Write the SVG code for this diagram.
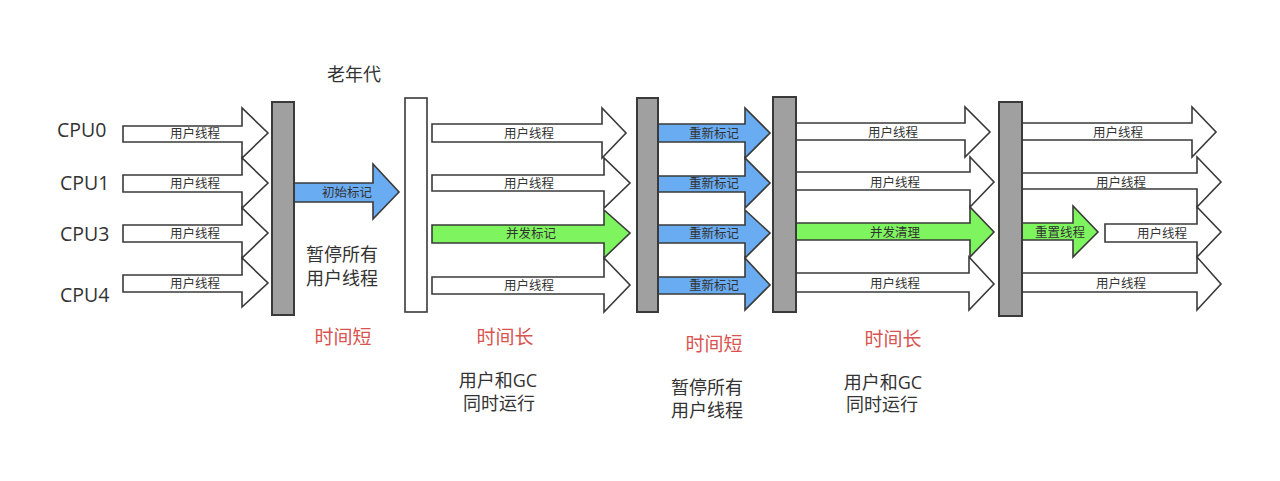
<svg xmlns="http://www.w3.org/2000/svg" width="1280" height="481" viewBox="0 0 1280 481">
<style>
text{font-family:"Open Sans","Noto Sans CJK SC",sans-serif;fill:#333}
.cpu{font-size:19.5px}
.lbl{font-size:12.5px;text-anchor:middle}
.note{font-size:18px;text-anchor:middle}
.red{font-size:19px;text-anchor:middle;fill:#d9534f}
.bar{fill:#a0a0a0;stroke:#3a3a3a;stroke-width:2}
.wbar{fill:#fff;stroke:#3a3a3a;stroke-width:1.6}
.aw{fill:#fff;stroke:#3a3a3a;stroke-width:1.6;stroke-linejoin:miter}
.ab{fill:#6aacf2;stroke:#3a3a3a;stroke-width:1.6}
.ag{fill:#7ef55e;stroke:#3a3a3a;stroke-width:1.6}
</style>
<rect width="1280" height="481" fill="#fff"/>
<g id="cpu-labels">
<text class="cpu" x="57" y="137">CPU0</text>
<text class="cpu" x="60" y="190">CPU1</text>
<text class="cpu" x="60" y="241">CPU3</text>
<text class="cpu" x="60" y="302">CPU4</text>
</g>
<g id="connectors">
<path class="aw" d="M123,126H242V108L268,133L242,158V142H123Z"/>
<path class="aw" d="M123,175H242V158L268,183L242,208V192H123Z"/>
<path class="aw" d="M123,225H242V208L268,233L242,258V242H123Z"/>
<path class="aw" d="M123,275H242V258L268,283L242,307V292H123Z"/>
<path class="ab" d="M294,183H373V164L399,192L373,219V202H294Z"/>
<path class="aw" d="M432,124H602V108L626,133L602,158V142H432Z"/>
<path class="aw" d="M432,175H604V158L630,183L604,208V191H432Z"/>
<path class="ag" d="M432,225H604V210L630,233L604,258V243H432Z"/>
<path class="aw" d="M432,277H604V258L630,285L604,312V294H432Z"/>
<path class="ab" d="M658,124H745V108L770,133L745,158V142H658Z"/>
<path class="ab" d="M658,176H745V158L770,183L745,208V192H658Z"/>
<path class="ab" d="M658,225H745V210L770,233L745,258V243H658Z"/>
<path class="ab" d="M658,277H745V258L770,285L745,310V294H658Z"/>
<path class="aw" d="M796,123H965V107L990,132L965,157V140H796Z"/>
<path class="aw" d="M796,172H970V157L994,182L970,207V190H796Z"/>
<path class="ag" d="M796,223H970V207L994,232L970,257V240H796Z"/>
<path class="aw" d="M796,273H969V257L994,284L969,310V292H796Z"/>
<path class="aw" d="M1022,123H1192V107L1216,132L1192,157V140H1022Z"/>
<path class="aw" d="M1022,173H1197V157L1221,182L1197,207V189H1022Z"/>
<path class="ag" d="M1022,223H1073V206L1098,232L1073,257V240H1022Z"/>
<path class="aw" d="M1105,224H1197V207L1221,232L1197,257V242H1105Z"/>
<path class="aw" d="M1022,273H1197V257L1221,284L1197,310V292H1022Z"/>
</g>
<g id="arrow-labels">
<text class="lbl" x="195" y="138">用户线程</text>
<text class="lbl" x="195" y="188">用户线程</text>
<text class="lbl" x="195" y="238">用户线程</text>
<text class="lbl" x="195" y="288">用户线程</text>
<text class="lbl" x="347" y="197">初始标记</text>
<text class="lbl" x="529" y="138">用户线程</text>
<text class="lbl" x="529" y="188">用户线程</text>
<text class="lbl" x="531" y="238">并发标记</text>
<text class="lbl" x="529" y="290">用户线程</text>
<text class="lbl" x="714" y="138">重新标记</text>
<text class="lbl" x="714" y="188">重新标记</text>
<text class="lbl" x="714" y="238">重新标记</text>
<text class="lbl" x="714" y="290">重新标记</text>
<text class="lbl" x="893" y="137">用户线程</text>
<text class="lbl" x="895" y="187">用户线程</text>
<text class="lbl" x="895" y="237">并发清理</text>
<text class="lbl" x="895" y="288">用户线程</text>
<text class="lbl" x="1118" y="137">用户线程</text>
<text class="lbl" x="1121" y="187">用户线程</text>
<text class="lbl" x="1060" y="237">重置线程</text>
<text class="lbl" x="1162" y="238">用户线程</text>
<text class="lbl" x="1121" y="288">用户线程</text>
</g>
<g id="bar1"><rect class="bar" x="272" y="102" width="22" height="213"/></g>
<g id="bar-old"><rect class="wbar" x="405" y="98" width="22" height="214"/></g>
<g id="bar2"><rect class="bar" x="637" y="98" width="21" height="214"/></g>
<g id="bar3"><rect class="bar" x="773" y="97" width="23" height="215"/></g>
<g id="bar4"><rect class="bar" x="999" y="102" width="23" height="214"/></g>
<g id="notes">
<text class="note" x="354" y="81">老年代</text>
<text class="note" x="342" y="261">暂停所有</text>
<text class="note" x="342" y="285">用户线程</text>
<text class="red" x="343" y="344">时间短</text>
<text class="red" x="505" y="344">时间长</text>
<text class="note" x="498" y="387">用户和GC</text>
<text class="note" x="499" y="410">同时运行</text>
<text class="red" x="714" y="351">时间短</text>
<text class="note" x="707" y="394">暂停所有</text>
<text class="note" x="707" y="417">用户线程</text>
<text class="red" x="893" y="346">时间长</text>
<text class="note" x="883" y="389">用户和GC</text>
<text class="note" x="882" y="411">同时运行</text>
</g>
</svg>
